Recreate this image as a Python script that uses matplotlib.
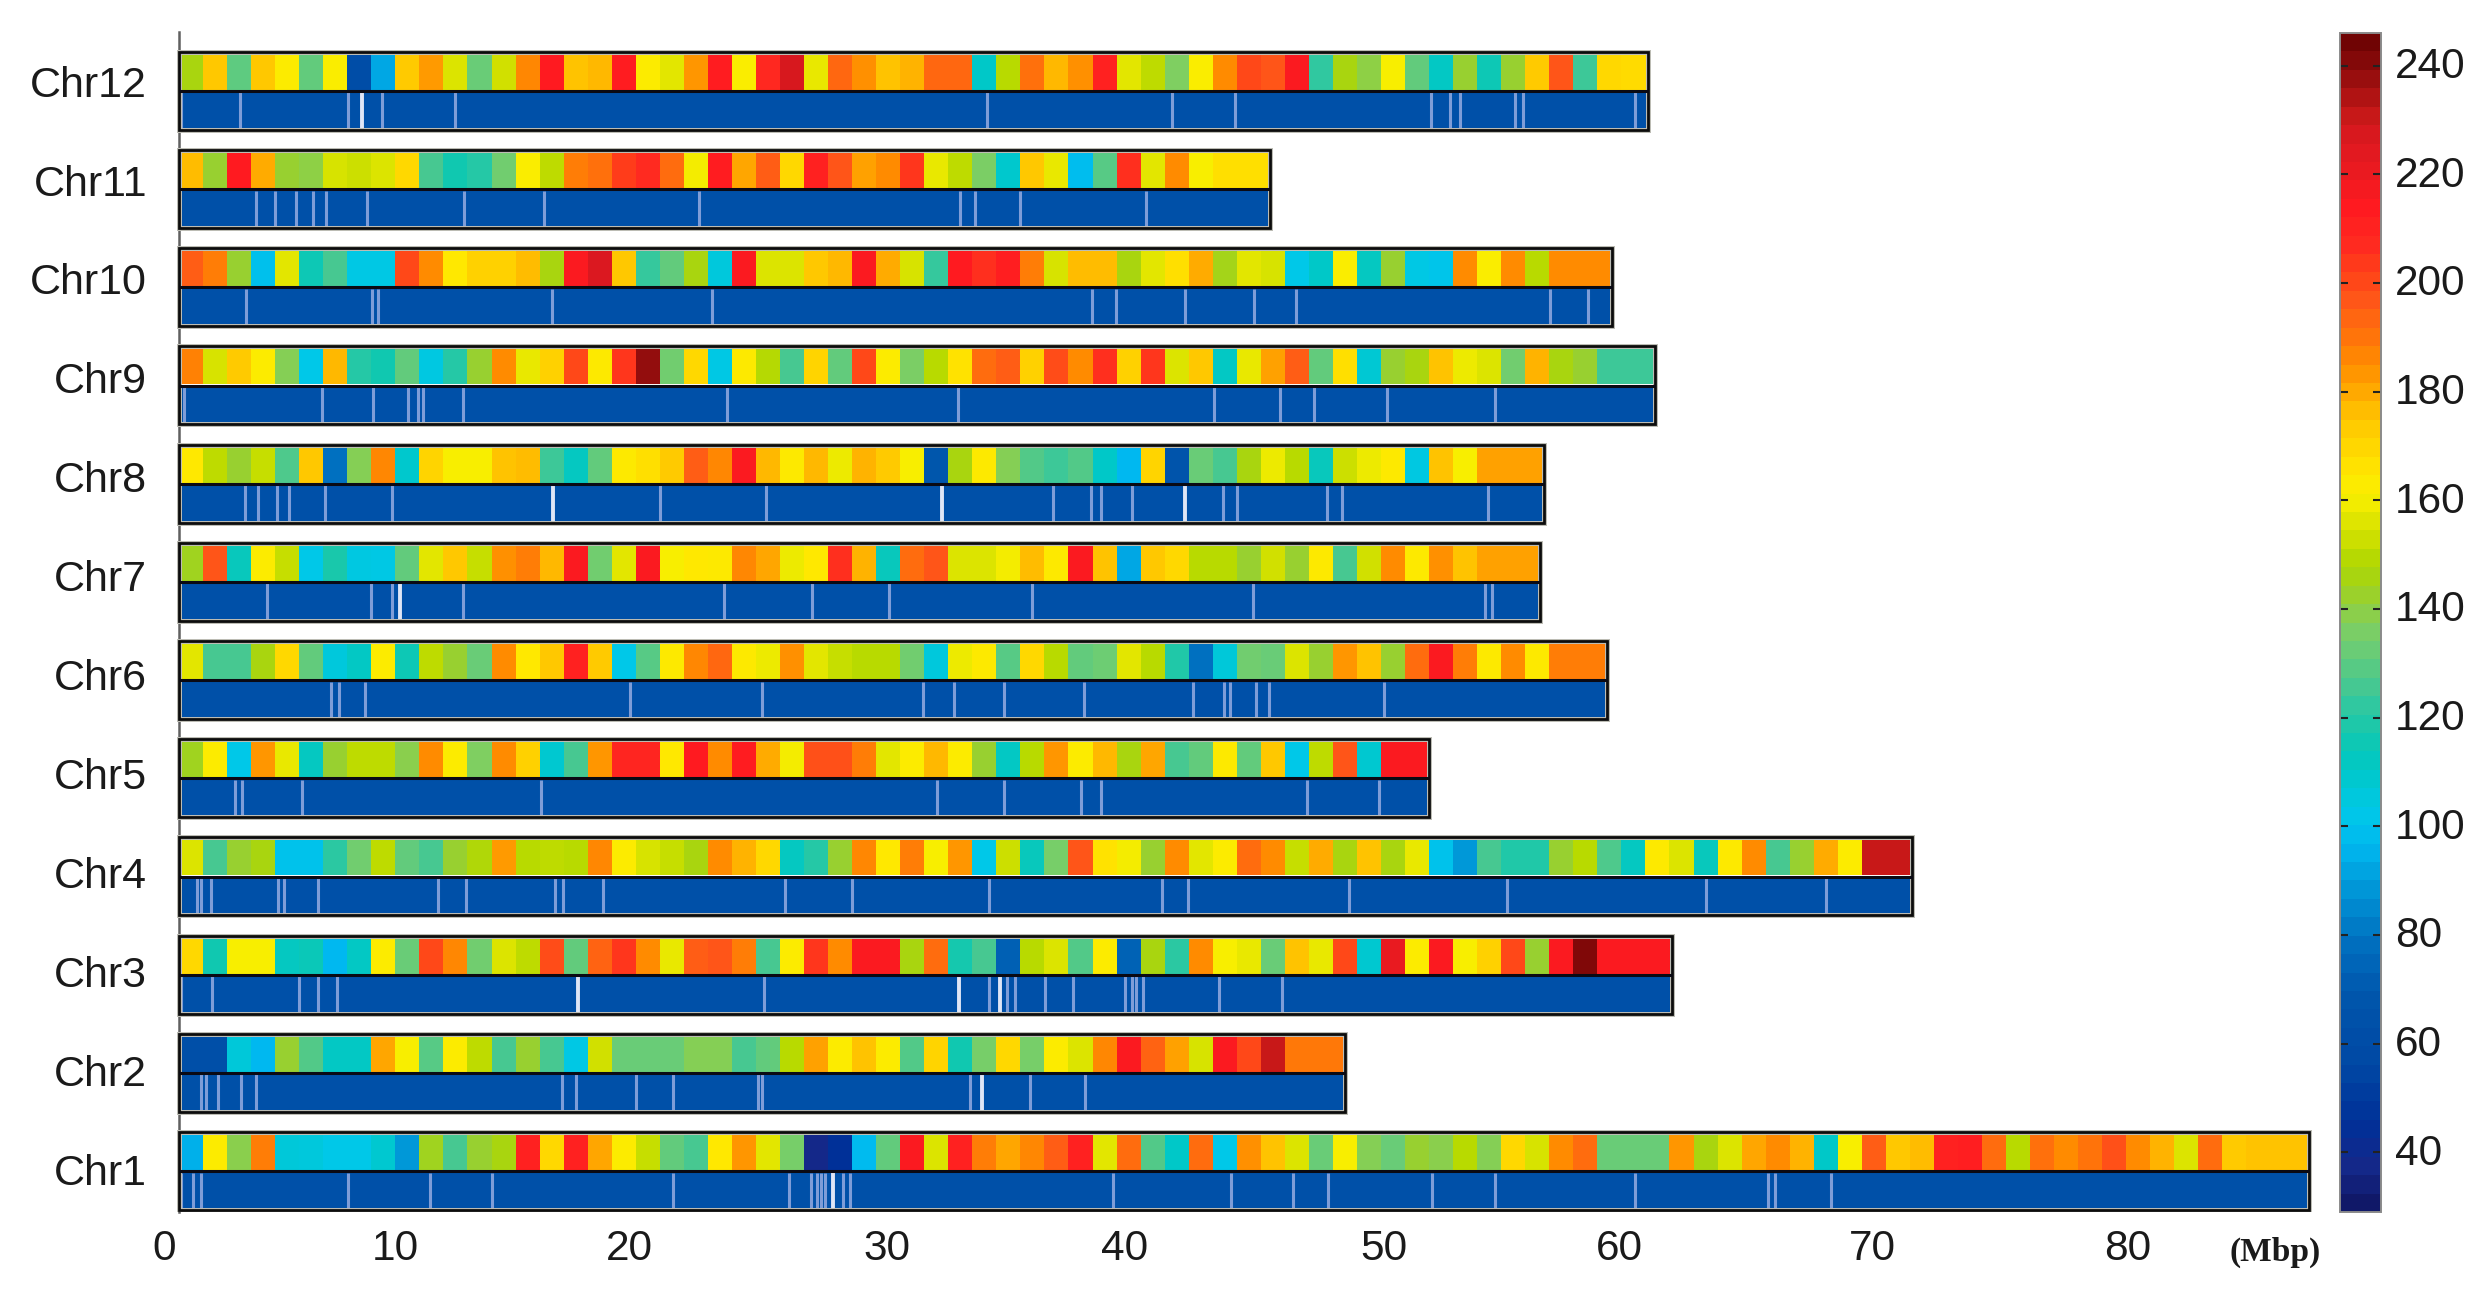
import numpy as np
import matplotlib
matplotlib.use("Agg")
import matplotlib.pyplot as plt
from matplotlib.colors import LinearSegmentedColormap, Normalize
from matplotlib.cm import ScalarMappable
from matplotlib.patches import Rectangle
from matplotlib.transforms import ScaledTranslation

chr_names = ["Chr1","Chr2","Chr3","Chr4","Chr5","Chr6","Chr7","Chr8","Chr9","Chr10","Chr11","Chr12"]
chr_lengths = [88.6,48.5,62.1,72.1,52.0,59.4,56.6,56.8,61.4,59.6,45.4,61.1]

chr1_bins = [94,163,139,189,106,105,102,102,108,88,144,126,142,146,212,170,212,181,163,152,131,126,165,184,157,135,36,
             44,97,131,216,156,212,189,181,187,196,212,157,193,128,110,193,102,185,176,156,132,161,138,132,142,139,150,138,170,155,186,193,132,132,132,
             184,146,156,181,186,179,110,161,196,175,177,212,213,193,150,192,186,191,199,186,179,156,193,174,176,176,176]
chr2_bins = [62,62,106,96,142,128,111,111,181,161,129,163,151,126,142,126,103,154,132,132,132,138,138,126,131,150,182,
             163,176,163,128,171,116,135,170,135,163,156,187,216,195,182,155,216,201,232,190,190,190]
chr3_bins = [170,116,161,161,112,114,96,111,163,132,201,187,134,156,151,200,131,195,205,186,158,196,198,189,126,163,205,
             186,216,216,146,193,117,126,72,150,156,128,163,73,146,121,186,161,158,132,176,158,201,108,222,163,216,161,172,201,142,216,243,216,216,216,216]
chr4_bins = [156,126,142,146,100,100,121,134,151,131,126,142,148,183,150,151,150,187,163,155,152,146,186,179,170,112,120,
             142,187,165,189,161,184,102,153,113,135,198,167,160,142,186,157,163,193,186,152,180,146,176,146,158,100,88,126,119,119,142,150,127,112,164,
             156,113,164,186,126,142,180,163,232,232,232]
chr5_bins = [144,163,102,184,158,112,142,151,151,139,186,163,137,186,172,108,126,184,210,210,165,215,186,214,180,160,199,
             199,189,157,163,178,163,142,111,150,184,163,178,146,181,126,131,164,131,175,102,151,198,108,216,216]
chr6_bins = [157,126,126,146,170,131,105,111,163,115,151,142,132,186,165,175,212,174,102,129,164,187,194,164,159,185,157,
             152,150,150,134,105,159,164,129,170,150,131,133,157,150,119,78,106,134,132,156,142,184,176,142,193,216,189,164,186,164,189,189,189]
chr7_bins = [144,198,113,163,152,102,118,104,103,131,157,175,152,185,189,178,216,134,157,216,161,165,164,187,181,159,165,
             207,179,113,193,198,156,156,160,177,164,216,176,92,175,170,150,150,142,154,142,164,126,154,186,164,185,176,182,182,182]
chr8_bins = [165,151,142,152,127,175,78,138,187,109,171,161,161,176,177,124,112,131,164,168,174,196,187,216,178,164,178,
             159,179,174,161,68,146,164,138,128,124,128,110,96,171,66,132,126,146,159,150,113,153,159,164,104,176,161,182,182,182]
chr9_bins = [188,155,174,163,138,102,178,120,116,131,104,120,142,186,158,172,201,164,205,240,134,170,103,164,149,126,171,
             131,201,163,136,150,167,193,196,172,200,186,207,172,205,156,175,111,158,182,196,131,168,107,142,146,176,159,156,134,179,146,142,124,124,124]
chr10_bins = [196,189,142,99,157,115,126,103,103,201,186,165,172,172,177,146,216,228,175,123,131,146,105,216,156,156,175,
              178,216,180,155,123,215,207,213,189,155,177,177,146,157,168,180,145,157,155,102,110,162,112,142,103,101,186,162,186,150,186,186,186]
chr11_bins = [177,142,215,180,142,140,155,153,156,170,126,116,120,134,162,151,189,192,204,208,193,160,214,181,196,170,212,
              198,182,186,205,158,151,136,109,175,158,98,129,207,157,186,161,168,168,168]
chr12_bins = [146,175,130,175,163,131,162,60,92,174,183,156,132,154,187,215,176,178,214,163,157,184,214,162,209,229,158,
              194,185,176,179,194,194,110,150,192,178,185,212,157,151,137,162,186,201,198,216,122,146,140,161,131,111,142,115,142,174,198,124,170,169]
chr_bins = [chr1_bins,chr2_bins,chr3_bins,chr4_bins,chr5_bins,chr6_bins,chr7_bins,chr8_bins,chr9_bins,chr10_bins,chr11_bins,chr12_bins]

chr1_marks = [0.09,0.57,0.9,7.05,10.44,13.0,20.55,25.37,26.27,26.54,26.7,26.87,27.63,27.92,38.86,43.78,46.35,47.78,52.12,54.75,60.56,66.1,66.41,68.72]
chr2_marks = [0.93,1.12,1.63,2.58,3.19,15.93,16.5,19.0,20.55,24.07,24.27,32.92,35.41,37.67]
chr3_marks = [0.09,1.39,5.0,5.79,6.56,24.32,33.69,34.46,34.77,36.04,37.17,39.37,39.64,39.81,40.08,43.25,45.87]
chr4_marks = [0.75,0.93,1.32,4.12,4.38,5.79,10.79,11.94,15.62,15.99,17.62,25.2,27.98,33.69,40.87,41.99,48.67,55.23,63.51,68.5]
chr5_marks = [2.31,2.6,5.11,15.07,31.53,34.3,37.54,38.36,46.93,49.92]
chr6_marks = [6.32,6.65,7.75,18.74,24.25,30.93,32.23,34.3,37.63,42.19,43.49,43.73,44.81,45.36,50.12]
chr7_marks = [3.68,8.0,8.88,11.8,22.69,26.32,29.55,35.49,44.68,54.33,54.63]
chr8_marks = [2.75,3.3,4.07,4.56,6.06,8.85,20.0,24.43,36.35,37.92,38.36,39.66,43.42,44.0,47.74,48.36,54.44]
chr9_marks = [0.22,5.93,8.06,9.52,9.96,10.13,11.8,22.8,32.41,43.05,45.8,47.21,50.23,54.75]
chr10_marks = [2.8,8.02,8.26,15.5,22.18,37.98,38.97,41.84,44.7,46.48,57.04,58.62]
chr11_marks = [3.19,3.99,4.87,5.57,6.12,7.82,11.87,15.2,21.63,32.48,33.12,34.97,40.23]
chr12_marks = [0.1,2.53,7.05,8.44,11.5,33.6,41.29,43.91,52.1,52.85,53.29,55.56,55.91,60.56]
chr_marks = [chr1_marks,chr2_marks,chr3_marks,chr4_marks,chr5_marks,chr6_marks,chr7_marks,chr8_marks,chr9_marks,chr10_marks,chr11_marks,chr12_marks]

# brighter, wider marks: row index (0 = Chr1) and position
bright_rows = [0,1,2,2,2,6,7,7,7,11]
bright_pos = [27.19,33.4,16.59,32.45,34.17,9.21,15.55,31.75,41.86,7.6]

x_tick_labels = ["0","10","20","30","40","50","60","70","80"]
x_tick_pos = [-0.62,8.98,18.74,29.46,39.34,50.12,59.93,70.44,81.08]
cbar_ticks = [40,60,80,100,120,140,160,180,200,220,240]
vmin, vmax = 29.0, 246.0

anchors = [(29,"#101868"),(36,"#14288a"),(44,"#003098"),(55,"#0048a4"),(68,"#0056ac"),(78,"#0070c0"),(88,"#0098d8"),
           (96,"#00b8f0"),(102,"#00c8e8"),(110,"#00c8c8"),(116,"#10c8b0"),(122,"#30c8a0"),(126,"#48c890"),(132,"#68cc78"),
           (137,"#80cf60"),(142,"#98d030"),(146,"#a8d510"),(150,"#b8da00"),(153,"#ccdf00"),(156,"#dce400"),(158,"#e8e800"),
           (161,"#f8ee00"),(165,"#ffe800"),(170,"#ffd800"),(175,"#ffc800"),(178,"#ffb800"),(182,"#ffa000"),(186,"#ff8c00"),
           (190,"#ff7808"),(194,"#ff6810"),(198,"#ff5518"),(203,"#ff4018"),(208,"#ff2a20"),(215,"#ff1a20"),(222,"#ea1a20"),
           (228,"#dc1820"),(232,"#c81818"),(238,"#a01010"),(243,"#800808"),(246,"#700404")]
cmap = LinearSegmentedColormap.from_list("jetlike", [((v-vmin)/(vmax-vmin), c) for v, c in anchors], N=512)
norm = Normalize(vmin, vmax)

W, H = 2488, 1312
BIN_PX, ROW_PX = 24.04, 98.2
X0_PX, Y0_PX = 179, 1210
AX_L, AX_R, AX_T, AX_B = 150, 2335, 32, 1212

plt.rcParams["font.family"] = ["Liberation Sans", "DejaVu Sans"]
fig = plt.figure(figsize=(W/100, H/100), dpi=100, facecolor="white")
ax = fig.add_axes([AX_L/W, 1-AX_B/H, (AX_R-AX_L)/W, (AX_B-AX_T)/H])
ax.set_xlim((AX_L-X0_PX)/BIN_PX, (AX_R-X0_PX)/BIN_PX)
ax.set_ylim((Y0_PX-AX_B)/ROW_PX, (Y0_PX-AX_T)/ROW_PX)
ax.patch.set_alpha(0)

LOW_TOP, UP_BOT, UP_TOP = 0.385, 0.407, 0.794
BLUE = "#0050a8"
for i, (vals, marks, length) in enumerate(zip(chr_bins, chr_marks, chr_lengths)):
    edges = np.minimum(np.arange(len(vals)+1, dtype=float), length)
    edges[-1] = length
    ax.pcolormesh(edges, [i+UP_BOT, i+UP_TOP], np.array([vals]), cmap=cmap, norm=norm,
                  shading="flat", antialiased=False, zorder=2)
    ax.barh(i+LOW_TOP/2, length, height=LOW_TOP, left=0, color=BLUE, linewidth=0, zorder=2)
    ax.vlines(marks, i+0.01, i+LOW_TOP-0.005, colors="#7e9dd8", linewidth=2.2, zorder=3)
    ax.add_patch(Rectangle((0, i), length, UP_TOP, fill=False, edgecolor="#bcbcb4", linewidth=3.6, zorder=4))
    ax.add_patch(Rectangle((0, i), length, UP_TOP, fill=False, edgecolor="#0c0c0c", linewidth=2.0, zorder=5))
    ax.hlines(i+(LOW_TOP+UP_BOT)/2, 0, length, colors="#0a0a14", linewidth=2.2, zorder=5)

ax.vlines(bright_pos, np.array(bright_rows)+0.01, np.array(bright_rows)+LOW_TOP-0.005,
          colors="#dfe6f6", linewidth=2.8, zorder=3)

for s in ("top", "right", "bottom"):
    ax.spines[s].set_visible(False)
ax.spines["left"].set_position(("data", 0))
ax.spines["left"].set_color("#606060")
ax.spines["left"].set_linewidth(1.8)

row_centres = np.arange(12)*1.0071 + 0.417
ax.set_yticks(row_centres, chr_names)
ax.set_xticks(x_tick_pos, x_tick_labels)
ax.tick_params(axis="y", length=0, pad=23, labelsize=31, labelcolor="#1a1a1a")
ax.tick_params(axis="x", length=0, pad=12.5, labelsize=30.5, labelcolor="#1a1a1a")

ax.text(87.2, -0.43, "(Mbp)", family="Liberation Serif", fontweight="bold", fontsize=24,
        color="#1a1a1a", ha="center", va="center", clip_on=False)

cax = fig.add_axes([2340/W, 1-1212/H, 41/W, (1212-33)/H])
sm = ScalarMappable(norm=norm, cmap=cmap.resampled(64))
cb = fig.colorbar(sm, cax=cax, ticks=cbar_ticks)
cb.outline.set_edgecolor("#8a8a8a")
cb.outline.set_linewidth(1.4)
cax.tick_params(axis="y", direction="in", left=True, right=True, length=6, width=1.5,
                color="#222222", labelsize=30.5, labelcolor="#1a1a1a", pad=10)
for lab in cax.get_yticklabels():
    lab.set_transform(lab.get_transform() + ScaledTranslation(0, 2.2/72, fig.dpi_scale_trans))

fig.savefig("out.png", dpi=100, facecolor="white")
